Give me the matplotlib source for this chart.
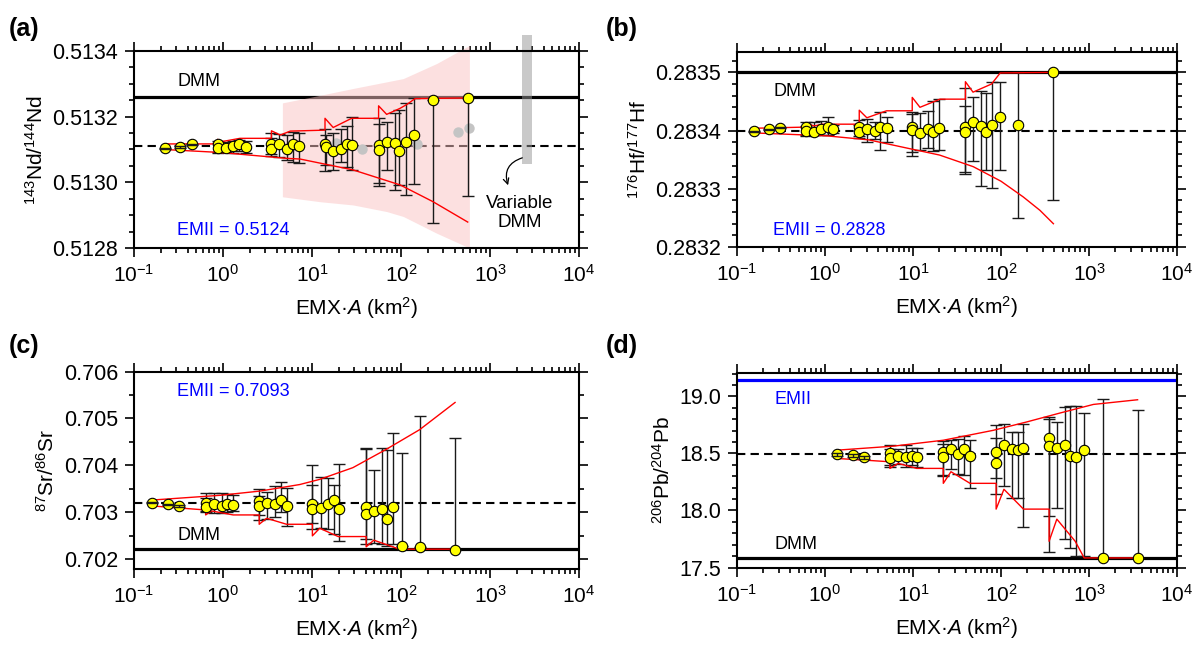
import matplotlib
matplotlib.use('Agg')
import matplotlib.pyplot as plt
import numpy as np
from matplotlib.ticker import MultipleLocator, LogLocator, FormatStrFormatter, NullFormatter

plt.rcParams['font.family'] = 'Liberation Sans'
plt.rcParams['mathtext.fontset'] = 'custom'
plt.rcParams['mathtext.rm'] = 'Liberation Sans'
plt.rcParams['mathtext.it'] = 'Liberation Sans:italic'
plt.rcParams['mathtext.bf'] = 'Liberation Sans:bold'

# ---------------- (a) Nd ----------------
a_x = [0.223, 0.329, 0.445, 0.885, 0.885, 1.08, 1.31, 1.51, 1.80, 3.46, 3.46, 4.29, 5.2, 6.17, 7.14,
       14.0, 14.2, 17.1, 21.0, 24.5, 28.4, 56.1, 56.1, 69.0, 84.9, 95.7, 113, 141, 227, 561]
a_y = [0.513104, 0.513108, 0.513116, 0.513116, 0.513105, 0.513105, 0.513111, 0.513117, 0.513108, 0.513116,
       0.513100, 0.513116, 0.513103, 0.513116, 0.513111, 0.513116, 0.513109, 0.513095, 0.513101, 0.513116,
       0.513114, 0.513114, 0.513098, 0.513124, 0.513119, 0.513096, 0.513124, 0.513144, 0.513251, 0.513257]
a_lo = [0.513102, 0.513106, 0.513114, 0.513090, 0.513092, 0.513092, 0.513090, 0.513094, 0.513090, 0.513080,
        0.513085, 0.513078, 0.513068, 0.513062, 0.513060, 0.513035, 0.513053, 0.513038, 0.513061, 0.513048,
        0.513038, 0.512997, 0.512990, 0.513038, 0.512977, 0.512992, 0.512962, 0.512994, 0.512876, 0.512957]
a_hi = [0.513106, 0.513110, 0.513118, 0.513127, 0.513120, 0.513122, 0.513125, 0.513128, 0.513125, 0.513150,
        0.513135, 0.513148, 0.513145, 0.513152, 0.513150, 0.513162, 0.513144, 0.513151, 0.513161, 0.513172,
        0.513199, 0.513195, 0.513177, 0.513185, 0.513212, 0.513220, 0.513243, 0.513257, 0.513251, 0.513257]
a_gray_x = [18.6, 36.1, 150, 441, 585]
a_gray_y = [0.513119, 0.513101, 0.513116, 0.513154, 0.513164]
a_up_x = [0.22, 0.87, 0.87, 0.97, 1.55, 3.5, 3.5, 4.4, 5.7, 14.0, 14.0, 17.3, 27.9, 56, 56, 69, 97, 116, 144, 562]
a_up_y = [0.513117, 0.513117, 0.513131, 0.513124, 0.513134, 0.513134, 0.513157, 0.513144, 0.513156, 0.513159,
          0.513195, 0.513167, 0.513195, 0.513195, 0.513233, 0.513207, 0.513225, 0.513237, 0.513255, 0.513257]
a_low_x = [0.22, 0.925, 5.2, 7.33, 28.8, 98, 229, 562]
a_low_y = [0.513100, 0.513091, 0.513073, 0.513071, 0.513038, 0.512992, 0.512941, 0.512879]
a_fan_x = [4.65, 12.3, 29.1, 69.0, 106, 252, 587]
a_fan_hi = [0.513242, 0.513265, 0.513286, 0.513306, 0.513316, 0.513362, 0.513417]
a_fan_lo = [0.512956, 0.512941, 0.512931, 0.512911, 0.512896, 0.512845, 0.512800]
a_dmm, a_mean = 0.51326, 0.51311
a_bar_x = [2290, 2965]
a_bar_y = [0.513056, 0.513450]

# ---------------- (b) Hf ----------------
b_x = [0.155, 0.229, 0.306, 0.615, 0.615, 0.746, 0.912, 1.07, 1.24, 2.45, 2.45, 2.99, 3.69, 4.24, 5.01,
       9.8, 9.8, 12.0, 14.7, 17.0, 19.9, 39.4, 39.4, 48.1, 58.9, 67.6, 79.1, 97.6, 155, 394]
b_y = [0.283399, 0.283402, 0.283405, 0.283406, 0.283399, 0.283398, 0.283403, 0.283406, 0.283402, 0.283407,
       0.283397, 0.283403, 0.283399, 0.283406, 0.283405, 0.283406, 0.283401, 0.283396, 0.283402, 0.283398,
       0.283404, 0.283406, 0.283398, 0.283414, 0.283408, 0.283398, 0.283409, 0.283424, 0.283409, 0.283500]
b_lo = [0.283398, 0.283401, 0.283404, 0.283390, 0.283392, 0.283392, 0.283393, 0.283393, 0.283395, 0.283387,
        0.283390, 0.283380, 0.283385, 0.283366, 0.283380, 0.283364, 0.283357, 0.283366, 0.283370, 0.283365,
        0.283367, 0.283329, 0.283326, 0.283347, 0.283305, 0.283333, 0.283301, 0.283333, 0.283250, 0.283280]
b_hi = [0.283400, 0.283403, 0.283406, 0.283414, 0.283408, 0.283415, 0.283417, 0.283423, 0.283410, 0.283419,
        0.283410, 0.283420, 0.283415, 0.283432, 0.283423, 0.283432, 0.283428, 0.283431, 0.283433, 0.283451,
        0.283455, 0.283474, 0.283443, 0.283457, 0.283468, 0.283465, 0.283483, 0.283484, 0.283500, 0.283500]
b_up_x = [0.155, 0.615, 0.615, 0.746, 0.95, 2.45, 2.45, 2.99, 5.0, 9.8, 9.8, 12.0, 20.3, 39.4, 39.4, 48.1, 78, 98, 394]
b_up_y = [0.283404, 0.283406, 0.283413, 0.283408, 0.283411, 0.283411, 0.283435, 0.283422, 0.283434, 0.283434,
          0.283457, 0.283440, 0.283454, 0.283454, 0.283484, 0.283466, 0.283480, 0.283499, 0.283500]
b_low_x = [0.155, 1.04, 3.16, 8.5, 20, 48.4, 100, 179, 277, 394]
b_low_y = [0.283396, 0.283391, 0.283384, 0.283370, 0.283358, 0.283338, 0.283313, 0.283286, 0.283263, 0.283240]
b_dmm, b_mean = 0.2835, 0.2834

# ---------------- (c) Sr ----------------
c_x = [0.161, 0.243, 0.323, 0.638, 0.638, 0.79, 0.964, 1.12, 1.30, 2.55, 2.55, 3.14, 3.83, 4.43, 5.18,
       10.1, 10.1, 12.6, 15.2, 17.6, 20.1, 40.7, 40.7, 49.5, 60.9, 70, 81, 102, 164, 405]
c_y = [0.703204, 0.703168, 0.703133, 0.703204, 0.703112, 0.703168, 0.703133, 0.703168, 0.703154, 0.703239,
       0.703133, 0.703189, 0.703168, 0.703253, 0.703133, 0.703168, 0.703076, 0.703097, 0.703168, 0.703260,
       0.703062, 0.703112, 0.702956, 0.703027, 0.703062, 0.702850, 0.703119, 0.702283, 0.702248, 0.702198]
c_lo = [0.703190, 0.703154, 0.703119, 0.703000, 0.703020, 0.702990, 0.702980, 0.703010, 0.703020, 0.702840,
        0.702950, 0.702850, 0.702900, 0.703000, 0.702710, 0.702640, 0.702770, 0.702670, 0.702640, 0.702530,
        0.702380, 0.702430, 0.702320, 0.702350, 0.702320, 0.702280, 0.702320, 0.702283, 0.702248, 0.702198]
c_hi = [0.703218, 0.703182, 0.703147, 0.703400, 0.703300, 0.703410, 0.703420, 0.703380, 0.703360, 0.703490,
        0.703350, 0.703430, 0.703560, 0.703650, 0.703510, 0.704000, 0.703570, 0.703750, 0.703730, 0.703580,
        0.704030, 0.704370, 0.704340, 0.703910, 0.704360, 0.704320, 0.704680, 0.704270, 0.705060, 0.704580]
c_up_x = [0.161, 0.923, 2.59, 7.28, 12.2, 28.8, 68.2, 162, 405]
c_up_y = [0.70326, 0.70336, 0.70345, 0.70359, 0.70370, 0.70395, 0.70434, 0.70476, 0.70534]
c_low_x = [0.161, 0.638, 0.638, 0.746, 1.30, 2.55, 2.55, 3.09, 5.18, 10.1, 10.1, 12.2, 19.7, 40.6, 40.6, 49.5, 96, 405]
c_low_y = [0.703133, 0.703048, 0.702942, 0.703027, 0.702942, 0.702942, 0.702743, 0.702871, 0.702743, 0.702743,
           0.702496, 0.702658, 0.702481, 0.702481, 0.702262, 0.702404, 0.702212, 0.702212]
c_dmm, c_mean = 0.70221, 0.70319

# ---------------- (d) Pb ----------------
d_x = [1.37, 2.09, 2.77, 5.46, 5.46, 6.79, 8.3, 9.64, 11.2, 22.1, 22.1, 27, 32.8, 38, 44.5,
       88, 88, 108, 132, 154, 180, 353, 353, 431, 537, 611, 715, 882, 1425, 3565]
d_y = [18.494, 18.485, 18.465, 18.500, 18.456, 18.480, 18.471, 18.480, 18.465, 18.509,
       18.465, 18.535, 18.491, 18.535, 18.480, 18.509, 18.419, 18.570, 18.538, 18.529,
       18.544, 18.637, 18.567, 18.549, 18.570, 18.480, 18.471, 18.529, 17.580, 17.580]
d_lo = [18.480, 18.471, 18.451, 18.384, 18.400, 18.410, 18.384, 18.400, 18.384, 18.311,
        18.300, 18.360, 18.320, 18.311, 18.195, 18.145, 18.288, 18.215, 18.108, 18.110,
        17.855, 17.953, 17.634, 18.020, 17.750, 17.671, 17.600, 17.600, 17.580, 17.580]
d_hi = [18.508, 18.499, 18.479, 18.573, 18.540, 18.535, 18.573, 18.550, 18.550, 18.610,
        18.580, 18.620, 18.625, 18.651, 18.622, 18.747, 18.640, 18.756, 18.690, 18.690,
        18.756, 18.820, 18.805, 18.776, 18.907, 18.920, 18.920, 18.858, 18.980, 18.878]
d_up_x = [1.37, 5.96, 22.1, 81.8, 195, 470, 1122, 3565]
d_up_y = [18.529, 18.564, 18.616, 18.703, 18.776, 18.855, 18.930, 18.971]
d_low_x = [1.37, 2.77, 5.46, 5.46, 6.79, 11.0, 22.1, 22.1, 27, 44.5, 88, 88, 108, 180, 352, 352, 431, 697, 881, 3565]
d_low_y = [18.456, 18.442, 18.427, 18.369, 18.413, 18.369, 18.369, 18.238, 18.340, 18.238,
           18.238, 18.012, 18.186, 18.012, 18.012, 17.730, 17.924, 17.730, 17.584, 17.584]
d_dmm, d_emii, d_mean = 17.58, 19.14, 18.494

W, H = 1198, 651
fig = plt.figure(figsize=(W / 100, H / 100), dpi=100)


def make_axes(l, t, w, h):
    return fig.add_axes([l / W, 1 - (t + h) / H, w / W, h / H])


def style(ax, ylim, major, minor, fmt, ylabel):
    ax.set_xscale('log')
    ax.set_xlim(0.1, 1e4)
    ax.set_ylim(*ylim)
    ax.yaxis.set_major_locator(MultipleLocator(major))
    ax.yaxis.set_minor_locator(MultipleLocator(minor))
    ax.yaxis.set_major_formatter(FormatStrFormatter(fmt))
    ax.xaxis.set_major_locator(LogLocator(base=10, numticks=10))
    ax.xaxis.set_minor_locator(LogLocator(base=10, subs=np.arange(2, 10), numticks=10))
    ax.xaxis.set_minor_formatter(NullFormatter())
    ax.tick_params(which='both', direction='out', top=True, right=True, width=1.2)
    ax.tick_params(which='major', length=6.5)
    ax.tick_params(which='minor', length=3.5)
    ax.tick_params(axis='y', labelsize=15.5, pad=5)
    ax.tick_params(axis='x', labelsize=15, pad=5)
    for s in ax.spines.values():
        s.set_linewidth(1.5)
    ax.set_xlabel('EMX·$\\mathit{A}$ (km$^2$)', fontsize=15, labelpad=7)
    ax.set_ylabel(ylabel, fontsize=15, labelpad=4)


def draw_points(ax, x, y, lo, hi):
    x, y, lo, hi = map(np.array, (x, y, lo, hi))
    span = ax.get_ylim()[1] - ax.get_ylim()[0]
    small = (hi - lo) < 0.03 * span
    for sel, z in ((~small, 3), (small, 5)):
        ax.errorbar(x[sel], y[sel], yerr=[y[sel] - lo[sel], hi[sel] - y[sel]], fmt='none',
                    ecolor='#1a1a1a', elinewidth=1, capsize=4, capthick=1, zorder=z)
    ax.plot(x, y, 'o', ms=7.5, mfc='#ffff00', mec='k', mew=0.8, zorder=4)


def ref_lines(ax, dmm, mean):
    ax.axhline(dmm, color='k', lw=2.3, zorder=2)
    ax.axhline(mean, color='k', lw=1.5, ls=(0, (4, 2.5)), zorder=2)


# panel (a)
ax = make_axes(134, 51, 445, 197)
style(ax, (0.5128, 0.5134), 0.0002, 0.00005, '%.4f', '$^{143}$Nd/$^{144}$Nd')
ref_lines(ax, a_dmm, a_mean)
ax.fill_between(a_fan_x, a_fan_lo, a_fan_hi, color=(0.98, 0.76, 0.76), alpha=0.5, lw=0, zorder=2.3, clip_on=False)
ax.fill_between(a_bar_x, a_bar_y[0], a_bar_y[1], color='#949494', alpha=0.5, lw=0, zorder=2.4, clip_on=False)
ax.plot(a_gray_x, a_gray_y, 'o', ms=7.5, color='#c4c4c4', mec='none', zorder=2.45)
ax.plot(a_up_x, a_up_y, color='red', lw=1, zorder=3.5)
ax.plot(a_low_x, a_low_y, color='red', lw=1, zorder=3.5)
draw_points(ax, a_x, a_y, a_lo, a_hi)
ax.text(0.097, 0.843, 'DMM', transform=ax.transAxes, fontsize=13, va='center')
ax.text(0.097, 0.091, 'EMII = 0.5124', transform=ax.transAxes, fontsize=13, va='center', color='#0000ff')
ax.annotate('', xy=(1633, 0.512983), xytext=(2470, 0.513077),
            arrowprops=dict(arrowstyle='->', connectionstyle='arc3,rad=0.55', color='k', lw=0.9))
ax.text(2173, 0.512907, 'Variable\nDMM', fontsize=13.5, ha='center', va='center', linespacing=1.1)

# panel (b)
ax = make_axes(737, 52, 440, 195)
style(ax, (0.2832, 0.283535), 0.0001, 0.00002, '%.4f', '$^{176}$Hf/$^{177}$Hf')
ref_lines(ax, b_dmm, b_mean)
ax.plot(b_up_x, b_up_y, color='red', lw=1, zorder=3.5)
ax.plot(b_low_x, b_low_y, color='red', lw=1, zorder=3.5)
draw_points(ax, b_x, b_y, b_lo, b_hi)
ax.text(0.082, 0.80, 'DMM', transform=ax.transAxes, fontsize=13, va='center')
ax.text(0.082, 0.087, 'EMII = 0.2828', transform=ax.transAxes, fontsize=13, va='center', color='#0000ff')

# panel (c)
ax = make_axes(134, 371.5, 445, 197)
style(ax, (0.7018, 0.706), 0.001, 0.0005, '%.3f', '$^{87}$Sr/$^{86}$Sr')
ref_lines(ax, c_dmm, c_mean)
ax.plot(c_up_x, c_up_y, color='red', lw=1, zorder=3.5)
ax.plot(c_low_x, c_low_y, color='red', lw=1, zorder=3.5)
draw_points(ax, c_x, c_y, c_lo, c_hi)
ax.text(0.097, 0.896, 'EMII = 0.7093', transform=ax.transAxes, fontsize=13, va='center', color='#0000ff')
ax.text(0.097, 0.165, 'DMM', transform=ax.transAxes, fontsize=13, va='center')

# panel (d)
ax = make_axes(737, 372.5, 440, 195)
style(ax, (17.5, 19.21), 0.5, 0.1, '%.1f', '$^{206}$Pb/$^{204}$Pb')
ref_lines(ax, d_dmm, d_mean)
ax.axhline(d_emii, color='#0000ff', lw=2.3, zorder=2)
ax.plot(d_up_x, d_up_y, color='red', lw=1, zorder=3.5)
ax.plot(d_low_x, d_low_y, color='red', lw=1, zorder=3.5)
draw_points(ax, d_x, d_y, d_lo, d_hi)
ax.text(0.086, 0.859, 'EMII', transform=ax.transAxes, fontsize=13, va='center', color='#0000ff')
ax.text(0.086, 0.12, 'DMM', transform=ax.transAxes, fontsize=13, va='center')

for lab, px, py in (('(a)', 9, 29), ('(b)', 606, 29), ('(c)', 9, 346), ('(d)', 606, 346)):
    fig.text(px / W, 1 - py / H, lab, fontsize=18, fontweight='bold', va='center')

fig.savefig('out.png', dpi=100)
